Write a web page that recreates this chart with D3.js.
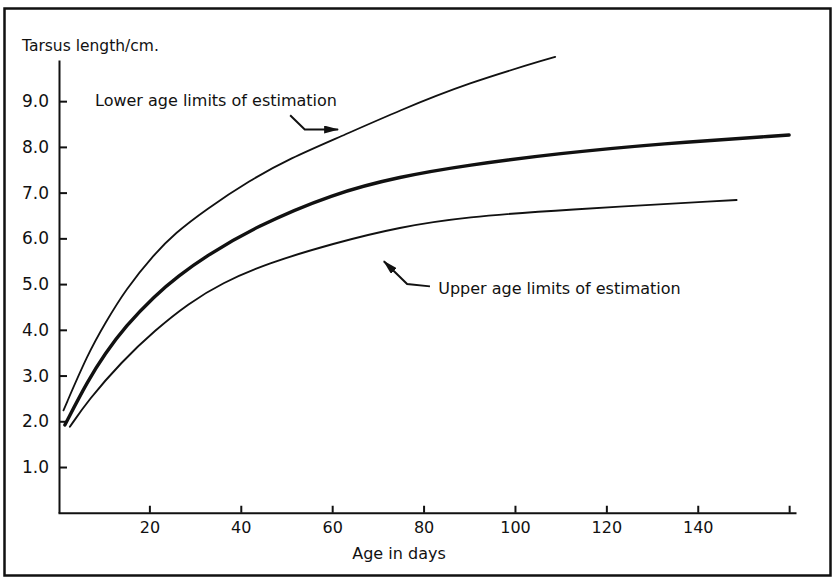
<!DOCTYPE html>
<html>
<head>
<meta charset="utf-8">
<script src="https://cdn.jsdelivr.net/npm/d3@7"></script>
<style>
  html, body { margin: 0; padding: 0; background: #fff; }
  svg { display: block; }
  text { font-family: "DejaVu Sans", sans-serif; fill: #111; }
</style>
</head>
<body>
<svg id="chart" width="836" height="578"></svg>
<script>
// Tarsus growth curve with the limits used for age estimation
const lowerLimitDays   = [1.2, 6.6, 10.3, 14.7, 21.2, 25.6, 32.2, 42, 50.8, 61.7, 74.8, 89.4, 108.8];
const lowerLimitTarsus = [2.24, 3.49, 4.14, 4.87, 5.67, 6.11, 6.62, 7.27, 7.75, 8.22, 8.80, 9.39, 9.97];

const meanDays   = [1.5, 6.6, 10.3, 14.7, 21.2, 26.4, 32.2, 43.1, 60.2, 74.8, 89.4, 109.8, 131.7, 160];
const meanTarsus = [1.92, 2.90, 3.48, 4.07, 4.75, 5.18, 5.60, 6.25, 6.98, 7.35, 7.60, 7.86, 8.07, 8.26];

const upperLimitDays   = [2.6, 6.6, 13.9, 21.2, 28.6, 35.8, 45.7, 60.2, 74.8, 89.4, 109.8, 148.5];
const upperLimitTarsus = [1.88, 2.46, 3.30, 3.99, 4.58, 5.02, 5.45, 5.89, 6.25, 6.47, 6.62, 6.84];

const xTicks = [20, 40, 60, 80, 100, 120, 140, 160];
const xTickLabels = ["20", "40", "60", "80", "100", "120", "140", ""];
const yTicks = [1, 2, 3, 4, 5, 6, 7, 8, 9];
const yTickLabels = ["1.0", "2.0", "3.0", "4.0", "5.0", "6.0", "7.0", "8.0", "9.0"];

const yAxisTitle = "Tarsus length/cm.";
const xAxisTitle = "Age in days";
const lowerLabel = "Lower age limits of estimation";
const upperLabel = "Upper age limits of estimation";

// annotation arrows in data units (day, cm)
const lowerArrowDays   = [50.8, 54.0, 61.3];
const lowerArrowTarsus = [8.69, 8.38, 8.38];
const upperArrowDays   = [81.4, 76.4, 71.3];
const upperArrowTarsus = [4.95, 5.00, 5.50];

const svg = d3.select("#chart");

const x = d3.scaleLinear().domain([0, 161.5]).range([58, 796]);
const y = d3.scaleLinear().domain([0, 9.9]).range([512.75, 60]);

// outer frame
svg.append("rect")
  .attr("x", 4.5).attr("y", 8.5).attr("width", 826).attr("height", 567)
  .attr("fill", "none").attr("stroke", "#111").attr("stroke-width", 2.5);

// y axis
const yAxis = d3.axisLeft(y)
  .tickValues(yTicks)
  .tickFormat((d, i) => yTickLabels[i])
  .tickSizeInner(-8)
  .tickSizeOuter(0)
  .tickPadding(10);
const gy = svg.append("g").attr("transform", `translate(${x(0) + 1},0)`).call(yAxis);
gy.select(".domain").attr("stroke", "#111").attr("stroke-width", 2);
gy.selectAll(".tick line").attr("stroke", "#111").attr("stroke-width", 2);
gy.selectAll(".tick text").style("font-size", "17px").attr("fill", "#111");

// x axis
const xAxis = d3.axisBottom(x)
  .tickValues(xTicks)
  .tickFormat((d, i) => xTickLabels[i])
  .tickSizeInner(-7)
  .tickSizeOuter(0)
  .tickPadding(9);
const gx = svg.append("g").attr("transform", `translate(0,${y(0)})`).call(xAxis);
gx.select(".domain").attr("stroke", "#111").attr("stroke-width", 2);
gx.selectAll(".tick line").attr("stroke", "#111").attr("stroke-width", 2);
gx.selectAll(".tick text").style("font-size", "16px").attr("fill", "#111");

// axis titles
svg.append("text").attr("x", 22).attr("y", 51).style("font-size", "15.5px").text(yAxisTitle);
svg.append("text").attr("x", 399).attr("y", 559).attr("text-anchor", "middle")
  .style("font-size", "16px").text(xAxisTitle);

// curves
const line = d3.line()
  .x(d => x(d[0]))
  .y(d => y(d[1]))
  .curve(d3.curveBasis);

const curves = [
  { days: lowerLimitDays, tarsus: lowerLimitTarsus, width: 1.8 },
  { days: meanDays, tarsus: meanTarsus, width: 3.4 },
  { days: upperLimitDays, tarsus: upperLimitTarsus, width: 1.9 }
];
svg.append("g").selectAll("path")
  .data(curves)
  .join("path")
  .attr("d", c => line(d3.zip(c.days, c.tarsus)))
  .attr("fill", "none")
  .attr("stroke", "#111")
  .attr("stroke-width", c => c.width)
  .attr("stroke-linecap", "round")
  .attr("stroke-linejoin", "round");

// arrowhead
svg.append("defs").append("marker")
  .attr("id", "head")
  .attr("markerUnits", "userSpaceOnUse")
  .attr("viewBox", "0 0 15 8")
  .attr("refX", 14).attr("refY", 4)
  .attr("markerWidth", 15).attr("markerHeight", 8)
  .attr("orient", "auto")
  .append("path").attr("d", "M0,0 L15,4 L0,8 Z").attr("fill", "#111");

const arrowLine = d3.line().x(d => x(d[0])).y(d => y(d[1]));
[
  d3.zip(lowerArrowDays, lowerArrowTarsus),
  d3.zip(upperArrowDays, upperArrowTarsus)
].forEach(pts => {
  svg.append("path")
    .attr("d", arrowLine(pts))
    .attr("fill", "none")
    .attr("stroke", "#111")
    .attr("stroke-width", 2)
    .attr("marker-end", "url(#head)");
});

// curve labels
svg.append("text").attr("x", x(8.1)).attr("y", y(8.89)).style("font-size", "16px").text(lowerLabel);
svg.append("text").attr("x", x(83.2)).attr("y", y(4.78)).style("font-size", "16px").text(upperLabel);
</script>
</body>
</html>
